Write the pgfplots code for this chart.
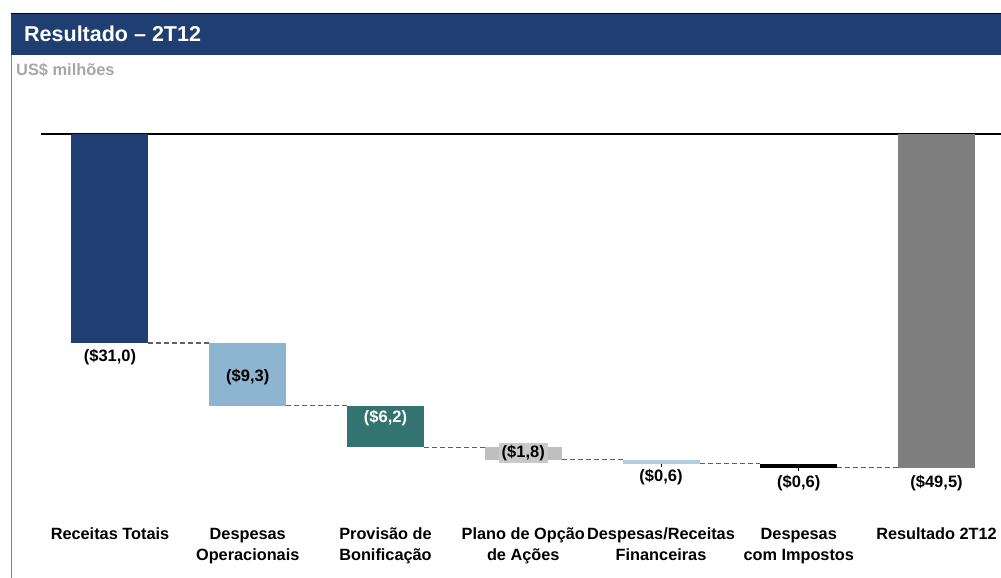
\documentclass[border=0pt]{standalone}
\usepackage{pgfplots}
\pgfplotsset{compat=1.18}
\usepackage{pgfplotstable}
\usepackage{fontspec}
\setmainfont{Liberation Sans}

\definecolor{hdr}{RGB}{31,63,114}
\definecolor{cA}{RGB}{31,63,114}
\definecolor{cB}{RGB}{141,180,208}
\definecolor{cC}{RGB}{52,116,112}
\definecolor{cD}{RGB}{191,191,191}
\definecolor{cE}{RGB}{179,206,225}
\definecolor{cF}{RGB}{0,0,0}
\definecolor{cG}{RGB}{127,127,127}
\definecolor{usgray}{RGB}{166,166,166}
\definecolor{dashgray}{RGB}{95,95,95}
\definecolor{lblbox}{RGB}{201,201,201}

\pgfplotstableread{
x base a b c d e f g
0 0     -31.0 0    0    0    0    0    0
1 -31.0 0     -9.3 0    0    0    0    0
2 -40.3 0     0    -6.2 0    0    0    0
3 -46.5 0     0    0    -1.8 0    0    0
4 -48.3 0     0    0    0    -0.6 0    0
5 -48.9 0     0    0    0    0    -0.6 0
6 0     0     0    0    0    0    0    -49.5
}\wf

\tikzset{vlbl/.style={font=\fontsize{16.5}{19}\selectfont\bfseries, inner sep=0pt}}

\begin{document}
\begin{tikzpicture}
\useasboundingbox (0,0) rectangle (1001pt,578pt);
\fill[hdr] (11pt,523pt) rectangle (1001pt,564pt);
\draw[black, line width=1pt] (11pt,564pt) -- (1001pt,564pt);
\draw[gray, line width=1pt] (11pt,0pt) -- (11pt,523pt);
\node[anchor=base west, text=white, font=\fontsize{21.5}{24}\selectfont\bfseries, inner sep=0pt] at (24pt,536pt) {Resultado – 2T12};
\node[anchor=base west, text=usgray, font=\fontsize{16.4}{18}\selectfont\bfseries, inner sep=0pt] at (16pt,502pt) {US\$ milhões};

\begin{axis}[
  at={(41.1pt,444pt)}, anchor=north west,
  scale only axis, width=959.9pt, height=370.8pt,
  xmin=-0.5, xmax=6.468, ymin=-55, ymax=0,
  ybar stacked, bar width=77pt,
  axis line style={draw=none}, major tick length=0pt,
  ytick=\empty, xtick={0,1,2,3,4,5,6},
  xticklabels={{Receitas Totais\\\mbox{}}, {Despesas\\Operacionais}, {Provisão de\\Bonificação}, {Plano de Opção\\de Ações}, {Despesas/Receitas\\Financeiras}, {Despesas\\com Impostos}, {Resultado 2T12\\\mbox{}}},
  xticklabel style={font=\fontsize{16.3}{21.5}\selectfont\bfseries, align=center, anchor=base, inner sep=0pt, yshift=-56.2pt},
  clip=false,
]
\addplot[draw=none, fill=none] table[x=x,y=base]{\wf};
\addplot[draw=none, fill=cA] table[x=x,y=a]{\wf};
\addplot[draw=none, fill=cB] table[x=x,y=b]{\wf};
\addplot[draw=none, fill=cC] table[x=x,y=c]{\wf};
\addplot[draw=none, fill=cD] table[x=x,y=d]{\wf};
\addplot[draw=none, fill=cE] table[x=x,y=e]{\wf};
\addplot[draw=none, fill=cF] table[x=x,y=f]{\wf};
\addplot[draw=none, fill=cG] table[x=x,y=g]{\wf};

\addplot[sharp plot, stack plots=false, black, line width=1.5pt] coordinates {(-0.5,0) (6.468,0)};

\addplot[sharp plot, stack plots=false, dashgray, line width=1.1pt, dash pattern=on 5pt off 3pt] coordinates {(0.2795,-31.0) (0.7205,-31.0)};
\addplot[sharp plot, stack plots=false, dashgray, line width=1.1pt, dash pattern=on 5pt off 3pt] coordinates {(1.2795,-40.3) (1.7205,-40.3)};
\addplot[sharp plot, stack plots=false, dashgray, line width=1.1pt, dash pattern=on 5pt off 3pt] coordinates {(2.2795,-46.5) (2.7205,-46.5)};
\addplot[sharp plot, stack plots=false, dashgray, line width=1.1pt, dash pattern=on 5pt off 3pt] coordinates {(3.2795,-48.3) (3.7205,-48.3)};
\addplot[sharp plot, stack plots=false, dashgray, line width=1.1pt, dash pattern=on 5pt off 3pt] coordinates {(4.2795,-48.9) (4.7205,-48.9)};
\addplot[sharp plot, stack plots=false, dashgray, line width=1.1pt, dash pattern=on 5pt off 3pt] coordinates {(5.2795,-49.5) (5.7205,-49.5)};

\addplot[sharp plot, stack plots=false, black, line width=0.8pt] coordinates {(4,-48.9) (4,-49.35)};
\addplot[sharp plot, stack plots=false, black, line width=0.8pt] coordinates {(5,-49.5) (5,-49.94)};

\coordinate (L1) at (axis cs:0,-33.08);
\coordinate (L2) at (axis cs:1,-36.0);
\coordinate (L3) at (axis cs:2,-42.17);
\coordinate (L4) at (axis cs:3,-47.36);
\coordinate (L5) at (axis cs:4,-50.83);
\coordinate (L6) at (axis cs:5,-51.81);
\coordinate (L7) at (axis cs:6,-51.81);
\end{axis}
\node[vlbl] at (L1) {(\$31,0)};
\node[vlbl] at (L2) {(\$9,3)};
\node[vlbl, text=white] at (L3) {(\$6,2)};
\node[vlbl, fill=lblbox, inner xsep=3pt, minimum height=20pt] at (L4) {(\$1,8)};
\node[vlbl] at (L5) {(\$0,6)};
\node[vlbl] at (L6) {(\$0,6)};
\node[vlbl] at (L7) {(\$49,5)};
\end{tikzpicture}
\end{document}
